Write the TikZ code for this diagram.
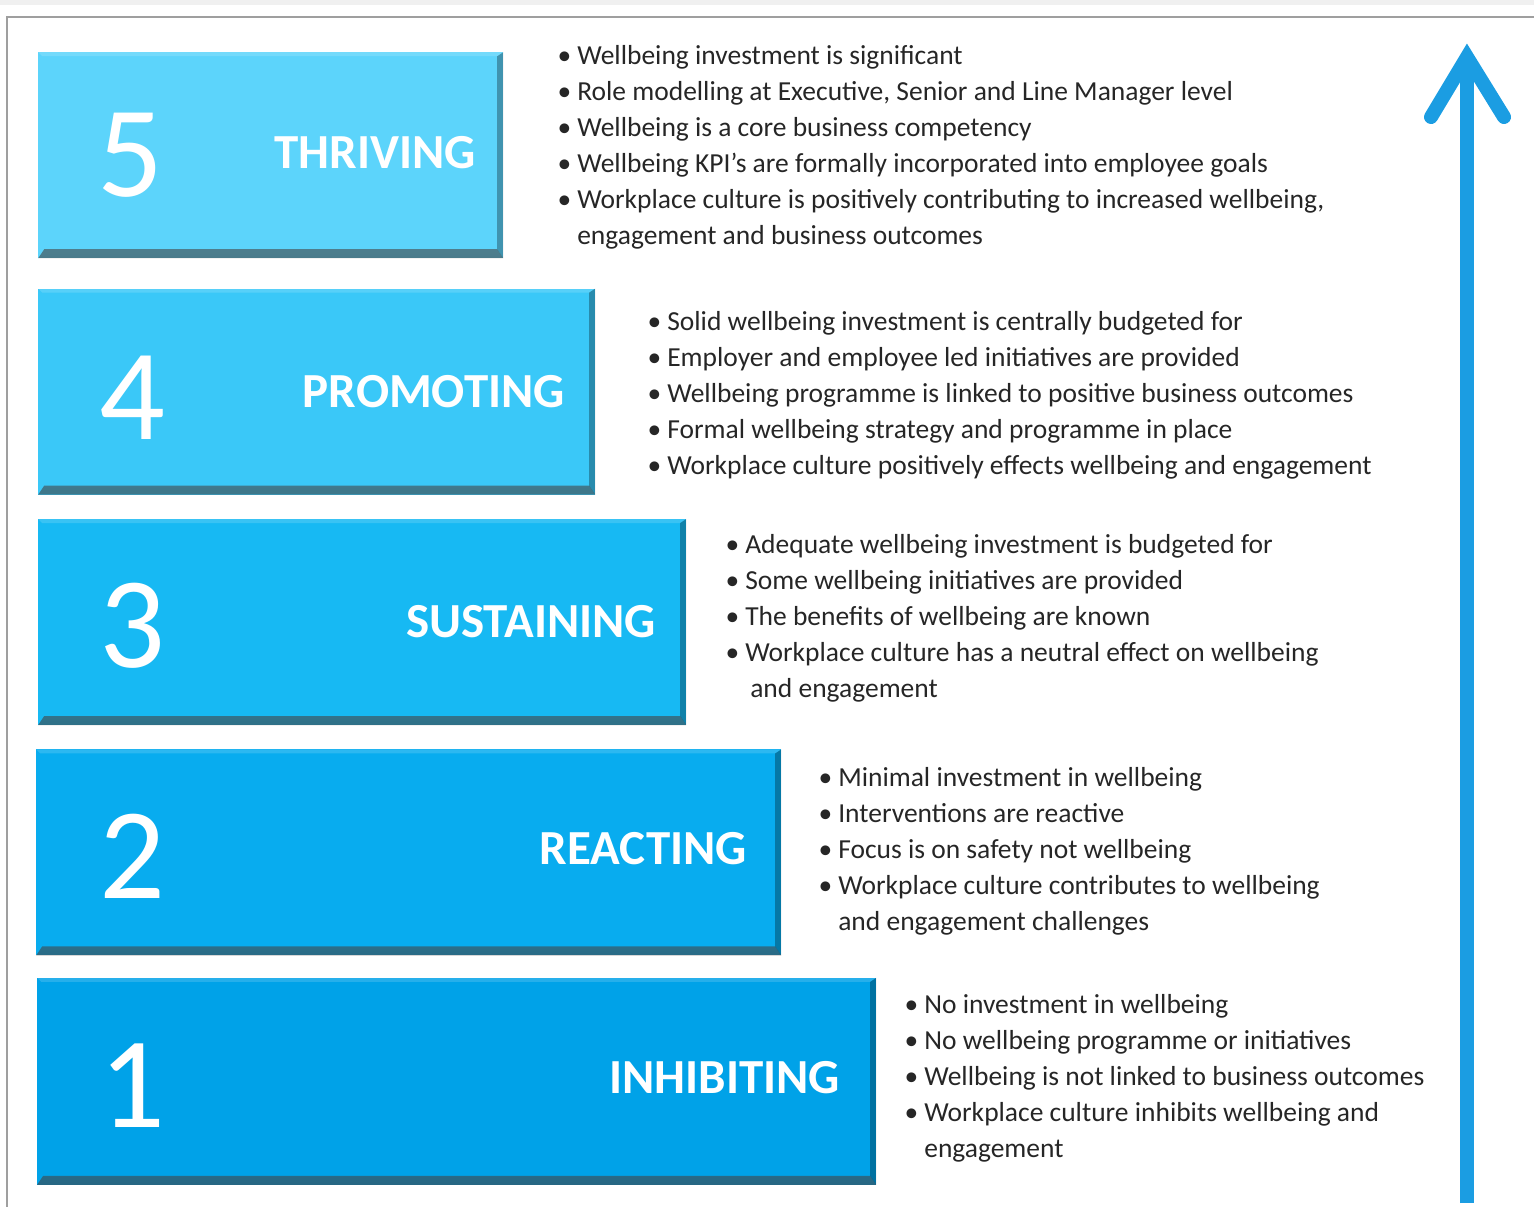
\documentclass[tikz,border=0pt]{standalone}
\usepackage{fontspec}
\setmainfont{Carlito}
\usetikzlibrary{positioning}

\definecolor{lvlfive}{HTML}{5CD4FB}
\definecolor{lvlfour}{HTML}{3AC8F8}
\definecolor{lvlthree}{HTML}{17B9F3}
\definecolor{lvltwo}{HTML}{08ACEF}
\definecolor{lvlone}{HTML}{00A2E8}
\definecolor{arrowblue}{HTML}{1B9DE2}
\definecolor{textgray}{HTML}{262626}

\begin{document}
\begin{tikzpicture}[
    x=1pt, y=-1pt,
    every node/.style={font=\fontsize{27.5}{36}\selectfont},
    box/.style={inner sep=0pt, minimum height=206pt,
        path picture={
            \shade[top color=black!30, bottom color=black!75, opacity=.6] (path picture bounding box.south west) -- (path picture bounding box.south east)
                -- ([shift={(-6pt,9pt)}]path picture bounding box.south east) -- ([shift={(6pt,9pt)}]path picture bounding box.south west) -- cycle;
            \fill[black, opacity=.3] (path picture bounding box.south east) -- (path picture bounding box.north east)
                -- ([shift={(-6pt,-4pt)}]path picture bounding box.north east) -- ([shift={(-6pt,9pt)}]path picture bounding box.south east) -- cycle;
            \fill[white, opacity=.15] (path picture bounding box.north west) -- (path picture bounding box.north east)
                -- ([shift={(-6pt,-4pt)}]path picture bounding box.north east) -- ([shift={(4pt,-4pt)}]path picture bounding box.north west) -- cycle;
        }},
    number/.style={text=white, font=\fontsize{130}{130}\selectfont},
    level/.style={text=white, anchor=east, font=\fontsize{49}{49}\selectfont\bfseries},
    list/.style={inner sep=0pt, text=textgray},
    arrow/.style={draw=arrowblue, line width=14pt}
]

\useasboundingbox (0,0) rectangle (1534,1207);

% frame
\fill[gray!12] (0,0) rectangle (1534,5);
\draw[gray!75, line width=2pt] (7,1207) -- (7,17) -- (1534,17);

% level boxes
\node[box, fill=lvlfive, minimum width=465pt, anchor=north west] (box5) at (38,52) {};
\node[box, fill=lvlfour, minimum width=557pt, below=30pt of box5.south west, anchor=north west] (box4) {};
\node[box, fill=lvlthree, minimum width=648pt, below=24pt of box4.south west, anchor=north west] (box3) {};
\node[box, fill=lvltwo, minimum width=745pt, below=24pt of box3.south west, anchor=north west, xshift=-2pt] (box2) {};
\node[box, fill=lvlone, minimum width=839pt, minimum height=207pt, below=22pt of box2.south west, anchor=north west, xshift=1pt] (box1) {};

% numbers
\node[number] (num5) at ([xshift=92pt]box5.west) {5};
\node[number] (num4) at ([xshift=94pt, yshift=-6pt]box4.west) {4};
\node[number] (num3) at ([xshift=94pt, yshift=-4pt]box3.west) {3};
\node[number] (num2) at ([xshift=96pt, yshift=-4pt]box2.west) {2};
\node[number] (num1) at ([xshift=95pt, yshift=-4pt]box1.west) {1};

% level names
\node[level] (lab5) at ([xshift=-24pt, yshift=3pt]box5.east) {THRIVING};
\node[level] (lab4) at ([xshift=-27pt]box4.east) {PROMOTING};
\node[level] (lab3) at ([xshift=-27pt]box3.east) {SUSTAINING};
\node[level] (lab2) at ([xshift=-31pt, yshift=4pt]box2.east) {REACTING};
\node[level] (lab1) at ([xshift=-33pt, yshift=4pt]box1.east) {INHIBITING};

% descriptions
\node[list, right=54pt of box5.north east, anchor=north west, yshift=13pt] (text5) {%
\begin{tabular}{@{}l@{\hspace{6pt}}l@{}}
\textbullet & Wellbeing investment is significant\\
\textbullet & Role modelling at Executive, Senior and Line Manager level\\
\textbullet & Wellbeing is a core business competency\\
\textbullet & Wellbeing KPI’s are formally incorporated into employee goals\\
\textbullet & Workplace culture is positively contributing to increased wellbeing,\\
 & engagement and business outcomes
\end{tabular}};

\node[list, right=52pt of box4.north east, anchor=north west, yshift=-17pt] (text4) {%
\begin{tabular}{@{}l@{\hspace{6pt}}l@{}}
\textbullet & Solid wellbeing investment is centrally budgeted for\\
\textbullet & Employer and employee led initiatives are provided\\
\textbullet & Wellbeing programme is linked to positive business outcomes\\
\textbullet & Formal wellbeing strategy and programme in place\\
\textbullet & Workplace culture positively effects wellbeing and engagement
\end{tabular}};

\node[list, right=39pt of box3.north east, anchor=north west, yshift=-9pt] (text3) {%
\begin{tabular}{@{}l@{\hspace{6pt}}l@{}}
\textbullet & Adequate wellbeing investment is budgeted for\\
\textbullet & Some wellbeing initiatives are provided\\
\textbullet & The benefits of wellbeing are known\\
\textbullet & Workplace culture has a neutral effect on wellbeing\\
 & \hspace{5pt}and engagement
\end{tabular}};

\node[list, right=37pt of box2.north east, anchor=north west, yshift=-12pt] (text2) {%
\begin{tabular}{@{}l@{\hspace{6pt}}l@{}}
\textbullet & Minimal investment in wellbeing\\
\textbullet & Interventions are reactive\\
\textbullet & Focus is on safety not wellbeing\\
\textbullet & Workplace culture contributes to wellbeing\\
 & and engagement challenges
\end{tabular}};

\node[list, right=28pt of box1.north east, anchor=north west, yshift=-10pt] (text1) {%
\begin{tabular}{@{}l@{\hspace{6pt}}l@{}}
\textbullet & No investment in wellbeing\\
\textbullet & No wellbeing programme or initiatives\\
\textbullet & Wellbeing is not linked to business outcomes\\
\textbullet & Workplace culture inhibits wellbeing and\\
 & engagement
\end{tabular}};

% progress arrow
\coordinate (arrowbot) at (1467,1203);
\coordinate (arrowtop) at (1467,45);
\draw[arrow] (arrowbot) -- ([yshift=-12pt]arrowtop);
\draw[arrow, line cap=round, line join=miter] ([shift={(-36pt,-72pt)}]arrowtop) -- ([yshift=-12pt]arrowtop) -- ([shift={(37pt,-72pt)}]arrowtop);

\end{tikzpicture}
\end{document}
